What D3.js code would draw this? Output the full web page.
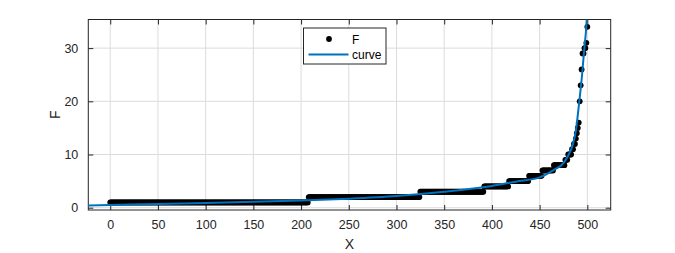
<!DOCTYPE html>
<html>
<head>
<meta charset="utf-8">
<script src="https://cdn.jsdelivr.net/npm/d3@7"></script>
<style>
body{margin:0;background:#fff;}
text{font-family:"Liberation Sans",Arial,Helvetica,sans-serif;}
</style>
</head>
<body>
<svg class="graph" width="675" height="253"></svg>
<script>
// step runs of the sorted F values (x from, x to, F)
var runStart = [0, 208, 325, 392, 418, 439, 453, 465];
var runEnd   = [207, 324, 391, 417, 438, 452, 464, 476];
var runValue = [1, 2, 3, 4, 5, 6, 7, 8];
// the steep tail, one point per x
var tailX = [477, 478, 479, 480, 481, 482, 483, 484, 485, 486, 487, 488, 489, 490, 491, 492, 493, 494, 495, 496, 497, 498, 499, 500];
var tailF = [9, 9, 9, 10, 10, 10, 10, 11, 11, 12, 12, 13, 14, 15, 16, 20, 23, 26, 29, 29, 30, 30, 31, 34];
// fitted curve
var curveX = [-24, 0, 50, 100, 150, 200, 250, 300, 350, 400, 425, 450, 465, 475, 480.5, 485, 488, 491.3, 494.5, 496.9, 498.5, 499.6];
var curveF = [0.4, 0.5, 0.7, 0.9, 1.1, 1.35, 1.7, 2.2, 3.0, 4.1, 4.9, 5.7, 7.1, 8.4, 10, 12, 14.5, 19.5, 25, 30, 33, 36];
var xTicks = [0, 50, 100, 150, 200, 250, 300, 350, 400, 450, 500];
var yTicks = [0, 10, 20, 30];

var pts = [];
runValue.forEach(function(v, i){
  for (var x = runStart[i]; x <= runEnd[i]; x++) pts.push([x, v]);
});
tailX.forEach(function(x, i){ pts.push([x, tailF[i]]); });
var curve = curveX.map(function(x, i){ return [x, curveF[i]]; });

var L = 88.3, R = 610.7, T = 19.5, B = 210;
var x = d3.scaleLinear().domain([-23, 524.5]).range([L, R]);
var y = d3.scaleLinear().domain([-0.43, 35.38]).range([B, T]);
var ink = '#262626';

var svg = d3.select('.graph');
svg.append('defs').append('clipPath').attr('id','clip')
 .append('rect').attr('x', L).attr('y', T).attr('width', R-L).attr('height', B-T);

// grid
svg.append('g').selectAll('line').data(xTicks).enter().append('line')
 .attr('x1', function(d){return x(d);}).attr('x2', function(d){return x(d);})
 .attr('y1', T).attr('y2', B).attr('stroke', '#dcdcdc').attr('stroke-width', 1);
svg.append('g').selectAll('line').data(yTicks).enter().append('line')
 .attr('y1', function(d){return y(d);}).attr('y2', function(d){return y(d);})
 .attr('x1', L).attr('x2', R).attr('stroke', '#dcdcdc').attr('stroke-width', 1);

// axes (ticks inside, box all round)
var xa = svg.append('g').attr('transform', 'translate(0,' + B + ')')
 .call(d3.axisBottom(x).tickValues(xTicks).tickSizeInner(-5).tickSizeOuter(0).tickPadding(10));
var xt = svg.append('g').attr('transform', 'translate(0,' + T + ')')
 .call(d3.axisTop(x).tickValues(xTicks).tickSizeInner(-5).tickSizeOuter(0).tickFormat(''));
var ya = svg.append('g').attr('transform', 'translate(' + L + ',0)')
 .call(d3.axisLeft(y).tickValues(yTicks).tickSizeInner(-5).tickSizeOuter(0).tickPadding(10));
var yr = svg.append('g').attr('transform', 'translate(' + R + ',0)')
 .call(d3.axisRight(y).tickValues(yTicks).tickSizeInner(-5).tickSizeOuter(0).tickFormat(''));
[xa, xt, ya, yr].forEach(function(g){
  g.select('.domain').remove();
  g.selectAll('line').attr('stroke', ink);
  g.selectAll('text').attr('fill', ink).style('font-size', '12.5px')
   .style('font-family', '"Liberation Sans",Arial,sans-serif');
});
svg.append('rect').attr('x', L).attr('y', T).attr('width', R-L).attr('height', B-T)
 .attr('fill', 'none').attr('stroke', ink).attr('stroke-width', 1);

// data
var plot = svg.append('g').attr('clip-path', 'url(#clip)');
plot.selectAll('circle').data(pts).enter().append('circle')
 .attr('cx', function(d){return x(d[0]);}).attr('cy', function(d){return y(d[1]);})
 .attr('r', 2.9).attr('fill', '#000');
plot.append('path').datum(curve)
 .attr('d', d3.line().x(function(d){return x(d[0]);}).y(function(d){return y(d[1]);}).curve(d3.curveMonotoneX))
 .attr('fill', 'none').attr('stroke', '#0072BD').attr('stroke-width', 2);

// labels
svg.append('text').attr('x', (L+R)/2).attr('y', 249).attr('text-anchor', 'middle')
 .attr('fill', ink).style('font-size', '14px').text('X');
svg.append('text').attr('transform', 'translate(60,' + ((T+B)/2) + ') rotate(-90)')
 .attr('text-anchor', 'middle').attr('fill', ink).style('font-size', '14px').text('F');

// legend
var lg = svg.append('g');
lg.append('rect').attr('x', 303.5).attr('y', 28).attr('width', 82.5).attr('height', 36)
 .attr('fill', '#fff').attr('stroke', ink).attr('stroke-width', 1);
lg.append('circle').attr('cx', 329).attr('cy', 39).attr('r', 2.9).attr('fill', '#000');
lg.append('line').attr('x1', 308.5).attr('x2', 348.5).attr('y1', 54.5).attr('y2', 54.5)
 .attr('stroke', '#0072BD').attr('stroke-width', 2);
lg.append('text').attr('x', 352).attr('y', 43.5).attr('fill', '#000').style('font-size', '12px').text('F');
lg.append('text').attr('x', 352).attr('y', 58.5).attr('fill', '#000').style('font-size', '12px').text('curve');
</script>
</body>
</html>
